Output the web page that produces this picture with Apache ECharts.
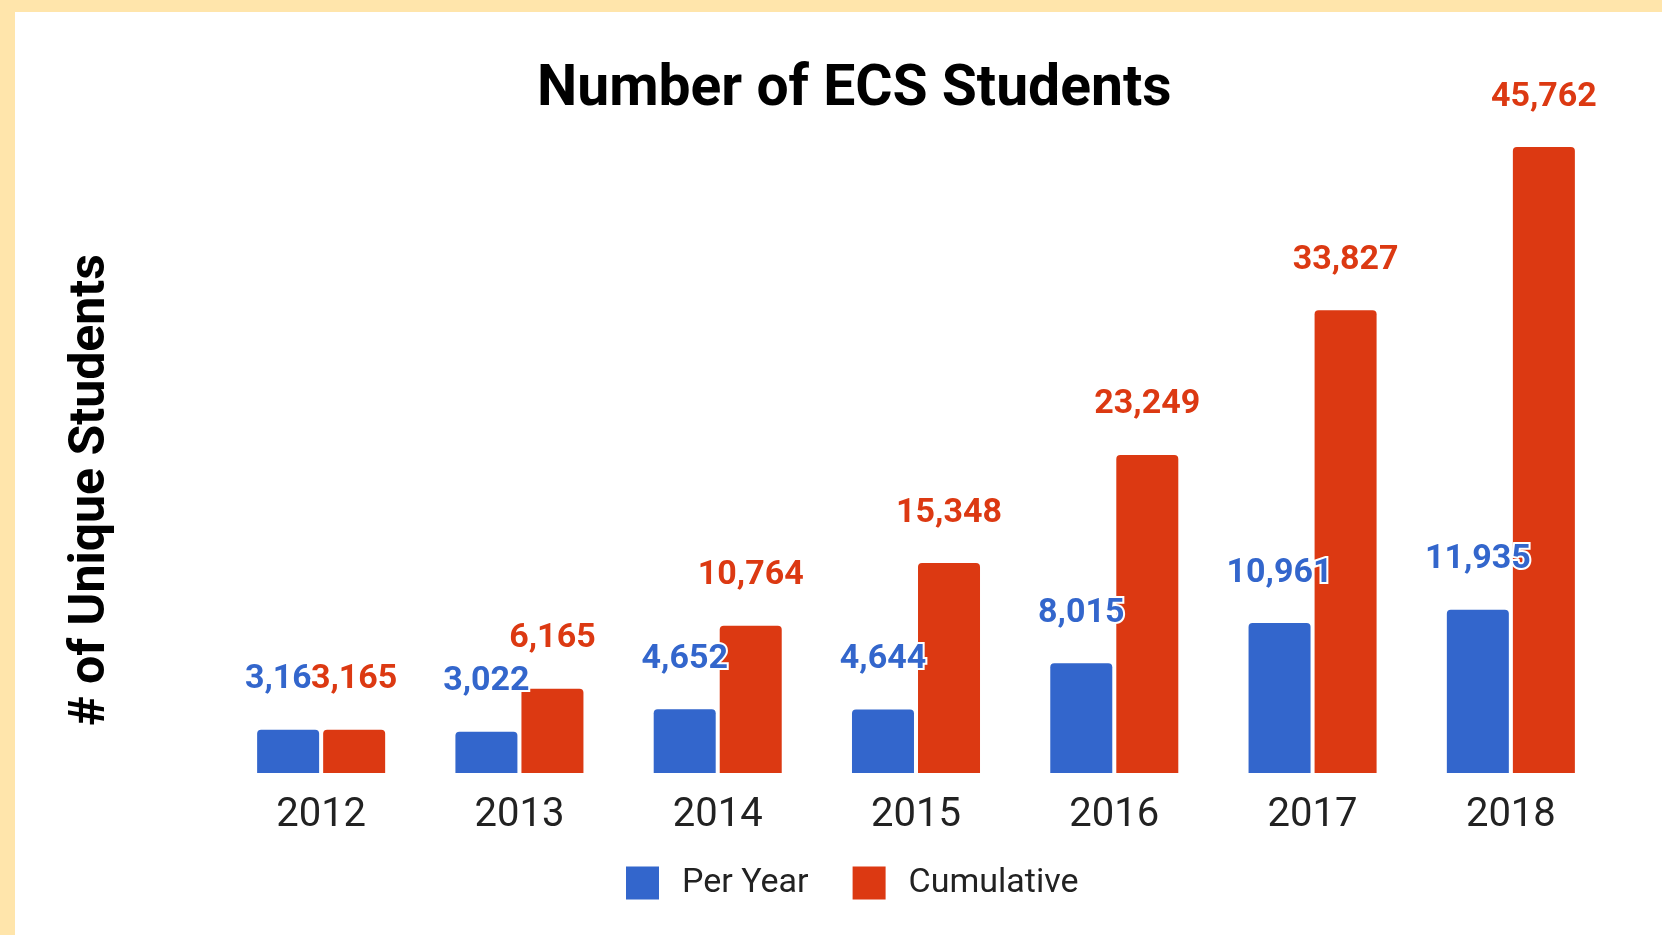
<!DOCTYPE html>
<html>
<head>
<meta charset="utf-8">
<script src="https://cdn.jsdelivr.net/npm/echarts@6/dist/echarts.min.js"></script>
<style>
  html, body { margin: 0; padding: 0; background: #ffffff; }
  #chart { position: absolute; left: 0; top: 0; width: 1662px; height: 935px; }
  .strip { position: absolute; background: #FFE5AB; z-index: 10; }
</style>
</head>
<body>
<div id="chart"></div>
<div class="strip" style="left:0;top:0;width:1662px;height:12px;"></div>
<div class="strip" style="left:0;top:0;width:15px;height:935px;"></div>
<script>
const categories = ['2012', '2013', '2014', '2015', '2016', '2017', '2018'];
const perYear = [3163, 3022, 4652, 4644, 8015, 10961, 11935];
const cumulative = [3165, 6165, 10764, 15348, 23249, 33827, 45762];
const seriesNames = ['Per Year', 'Cumulative'];
const chartTitle = 'Number of ECS Students';
const yAxisTitle = '# of Unique Students';

const BLUE = '#3366CC';
const RED = '#DC3912';
const FONT = 'Roboto, "Noto Sans", sans-serif';

const fmt = v => v.toLocaleString('en-US');

function labelStyle(color) {
  return {
    show: true,
    position: 'top',
    distance: 33,
    color: color,
    fontFamily: FONT,
    fontWeight: 'bold',
    fontSize: 34,
    textBorderColor: '#ffffff',
    textBorderWidth: 4,
    formatter: p => fmt(p.value)
  };
}

const chart = echarts.init(document.getElementById('chart'), null, { renderer: 'canvas' });
chart.setOption({
  backgroundColor: '#ffffff',
  animation: false,
  title: {
    text: chartTitle,
    left: 532,
    top: 57,
    textStyle: { fontFamily: FONT, fontWeight: 'bold', fontSize: 57, color: '#000000' }
  },
  legend: {
    left: 621,
    top: 861,
    itemWidth: 33,
    itemHeight: 33,
    itemGap: 44,
    icon: 'rect',
    textStyle: { fontFamily: FONT, fontSize: 34, color: '#222222', padding: [0, 0, 0, 18] },
    data: seriesNames
  },
  grid: { left: 222, right: 52, top: 147, bottom: 162, containLabel: false },
  xAxis: {
    type: 'category',
    data: categories,
    axisLine: { show: false },
    axisTick: { show: false },
    axisLabel: { margin: 23, fontFamily: FONT, fontSize: 40, color: '#222222' }
  },
  yAxis: {
    type: 'value',
    min: 0,
    max: 45762,
    name: yAxisTitle,
    nameLocation: 'middle',
    nameRotate: 90,
    nameGap: 106,
    nameTextStyle: { fontFamily: FONT, fontWeight: 'bold', fontSize: 50, color: '#000000', padding: [0, 60, 0, 0] },
    axisLine: { show: false },
    axisTick: { show: false },
    axisLabel: { show: false },
    splitLine: { show: false }
  },
  series: [
    {
      name: seriesNames[0],
      type: 'bar',
      data: perYear,
      barWidth: 62,
      barGap: '6.5%',
      itemStyle: { color: BLUE, borderRadius: [4, 4, 0, 0] },
      label: labelStyle(BLUE)
    },
    {
      name: seriesNames[1],
      type: 'bar',
      data: cumulative,
      barWidth: 62,
      barGap: '6.5%',
      itemStyle: { color: RED, borderRadius: [4, 4, 0, 0] },
      label: labelStyle(RED)
    }
  ]
});
</script>
</body>
</html>
